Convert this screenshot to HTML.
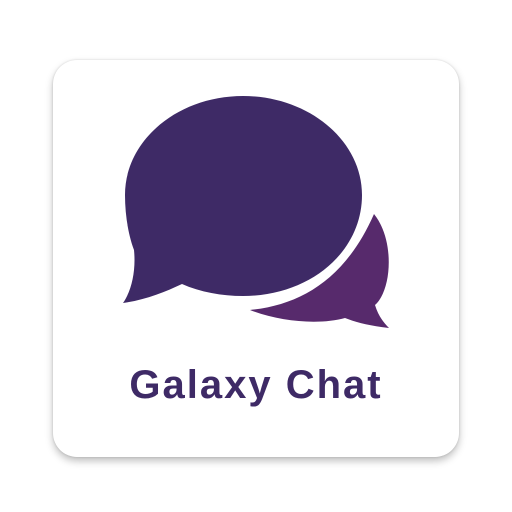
<!DOCTYPE html>
<html><head><meta charset="utf-8"><style>
html,body{margin:0;padding:0;width:512px;height:512px;background:#fff;overflow:hidden}
.card{position:absolute;left:53px;top:60px;width:406px;height:397px;border-radius:24px;background:#fff;box-shadow:0 4px 8px rgba(0,0,0,0.25),0 0 2px rgba(0,0,0,0.15)}
svg{position:absolute;left:0;top:0}
</style></head><body>
<div class="card"></div>
<svg width="512" height="512">
<path d="M374,214 C395,240 392,290 375,305 C378,315 383,322 389,328 C370,326 355,322 345,318 C320,325 280,322 250,310 C300,305 345,280 374,214 Z" fill="#572a6c"/>
<path d="M243,96 C308,96 362,140 362,195 C362,252 310,296 243,296 C222,296 200,292 182,284 C165,292 145,300 123,303 C132,290 136,270 134,250 C128,234 125,214 125,195 C125,140 178,96 243,96 Z" fill="#3e2a66"/>
</svg>
<div style="position:absolute;left:110px;top:363px;width:292px;text-align:center;font-family:'Liberation Sans',sans-serif;font-weight:bold;font-size:40px;color:#3e2a66;letter-spacing:2px">Galaxy Chat</div>
</body></html>
